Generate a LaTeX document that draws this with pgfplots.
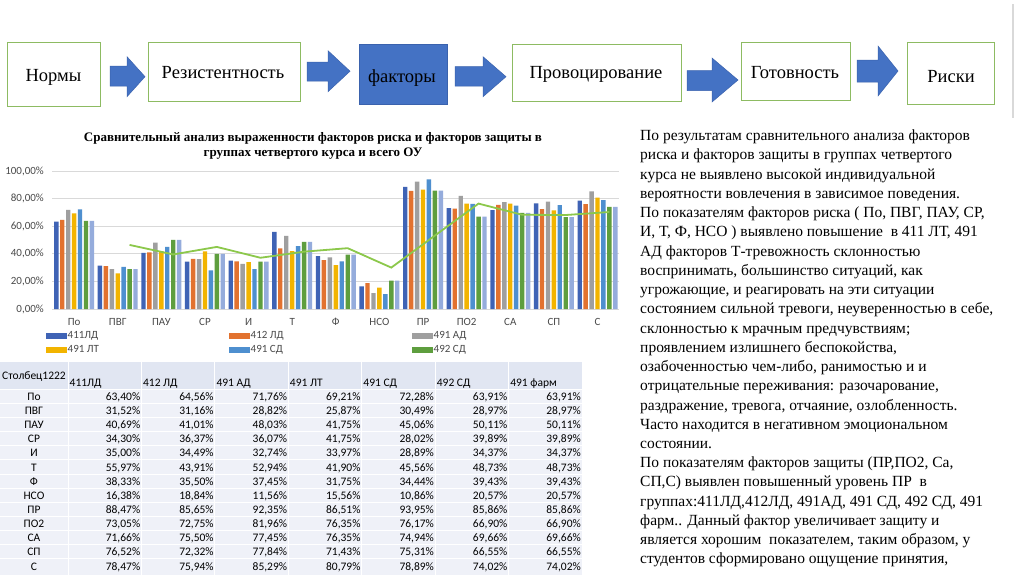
\documentclass[border=0pt]{standalone}
\usepackage{pgfplots}
\pgfplotsset{compat=1.18}
\usepackage{pgfplotstable}
\usepackage{fontspec}
\setmainfont{Liberation Serif}
\newfontfamily\tnr{Liberation Serif}
\newfontfamily\carlito{Carlito}

\definecolor{c1}{HTML}{3F63B5}
\definecolor{c2}{HTML}{E2722F}
\definecolor{c3}{HTML}{9F9F9F}
\definecolor{c4}{HTML}{F2B400}
\definecolor{c5}{HTML}{4E8FCF}
\definecolor{c6}{HTML}{5E9E3E}
\definecolor{c7}{HTML}{95ACDC}
\definecolor{linec}{HTML}{8CC84B}
\definecolor{gridc}{HTML}{D9D9D9}
\definecolor{tickc}{HTML}{4A4A4A}
\definecolor{boxg}{HTML}{8DBB62}
\definecolor{arrowc}{HTML}{4472C4}
\definecolor{arrowd}{HTML}{3A62AD}
\definecolor{hdrc}{HTML}{E1E6F2}
\definecolor{rowc}{HTML}{EFF1F8}

\pgfplotstableread{
x a b c d e f g
0 63.40 64.56 71.76 69.21 72.28 63.91 63.91
1 31.52 31.16 28.82 25.87 30.49 28.97 28.97
2 40.69 41.01 48.03 41.75 45.06 50.11 50.11
3 34.30 36.37 36.07 41.75 28.02 39.89 39.89
4 35.00 34.49 32.74 33.97 28.89 34.37 34.37
5 55.97 43.91 52.94 41.90 45.56 48.73 48.73
6 38.33 35.50 37.45 31.75 34.44 39.43 39.43
7 16.38 18.84 11.56 15.56 10.86 20.57 20.57
8 88.47 85.65 92.35 86.51 93.95 85.86 85.86
9 73.05 72.75 81.96 76.35 76.17 66.90 66.90
10 71.66 75.50 77.45 76.35 74.94 69.66 69.66
11 76.52 72.32 77.84 71.43 75.31 66.55 66.55
12 78.47 75.94 85.29 80.79 78.89 74.02 74.02
}\data

\begin{document}
\begin{tikzpicture}
\useasboundingbox (0pt,0pt) rectangle (1024pt,-574pt);
\fill[white] (0pt,0pt) rectangle (1024pt,-574pt);
\clip (0pt,0pt) rectangle (1024pt,-574pt);

\begin{scope}[x=1pt,y=-1pt]
% vertical separator top right
\draw[gridc, line width=1.6pt] (1012.7,4) -- (1012.7,118);
% flow boxes
\draw[boxg, line width=0.9pt, fill=white] (7,42.7) rectangle (100,106.7);
\draw[boxg, line width=0.9pt, fill=white] (148,42.7) rectangle (300,101.7);
\draw[draw=arrowd, line width=0.8pt, fill=arrowc] (359,44.3) rectangle (447,104);
\draw[boxg, line width=0.9pt, fill=white] (512.6,44) rectangle (681,101);
\draw[boxg, line width=0.9pt, fill=white] (741,42.7) rectangle (850,100);
\draw[boxg, line width=0.9pt, fill=white] (907.7,42) rectangle (994,104);
\begin{scope}[font=\tnr\fontsize{18.5}{20}\selectfont]
\node[anchor=base, inner sep=0] at (53.5,81) {Нормы};
\node[anchor=base, inner sep=0] at (223,78.5) {Резистентность};
\node[anchor=base, inner sep=0] at (402,82.5) {факторы};
\node[anchor=base, inner sep=0] at (596,78.8) {Провоцирование};
\node[anchor=base, inner sep=0] at (795,78.8) {Готовность};
\node[anchor=base, inner sep=0] at (951,82.5) {Риски};
\end{scope}
% arrows
\filldraw[fill=arrowc, draw=arrowd, line width=0.5pt] (110,66) -- (127,66) -- (127,56.7) -- (145,76.7) -- (127,96.7) -- (127,86) -- (110,86) -- cycle;
\filldraw[fill=arrowc, draw=arrowd, line width=0.5pt] (307,62) -- (328,62) -- (328,50.7) -- (350,71.2) -- (328,91.7) -- (328,81) -- (307,81) -- cycle;
\filldraw[fill=arrowc, draw=arrowd, line width=0.5pt] (455,66.5) -- (483,66.5) -- (483,56.7) -- (506,76.7) -- (483,96.7) -- (483,86) -- (455,86) -- cycle;
\filldraw[fill=arrowc, draw=arrowd, line width=0.5pt] (687,70.5) -- (712,70.5) -- (712,58) -- (738,80) -- (712,102) -- (712,90.5) -- (687,90.5) -- cycle;
\filldraw[fill=arrowc, draw=arrowd, line width=0.5pt] (857,60) -- (878,60) -- (878,46) -- (898,71) -- (878,96) -- (878,82) -- (857,82) -- cycle;
% chart title
\node[font=\tnr\bfseries\fontsize{13}{15}\selectfont, align=center, inner sep=0] at (313,146)
  {Сравнительный анализ выраженности факторов риска и факторов защиты в\\группах четвертого курса и всего ОУ};
% right text
\begin{scope}[font=\tnr\fontsize{15.5}{18}\selectfont]
\node[anchor=base west, inner sep=0] at (640,140.6) {По результатам сравнительного анализа факторов};
\node[anchor=base west, inner sep=0] at (640,159.8) {риска и факторов защиты в группах четвертого};
\node[anchor=base west, inner sep=0] at (640,179.1) {курса не выявлено высокой индивидуальной};
\node[anchor=base west, inner sep=0] at (640,198.3) {вероятности вовлечения в зависимое поведения.};
\node[anchor=base west, inner sep=0] at (640,217.6) {По показателям факторов риска ( По, ПВГ, ПАУ, СР,};
\node[anchor=base west, inner sep=0] at (640,236.8) {И, Т, Ф, НСО ) выявлено повышение\ \ в 411 ЛТ, 491};
\node[anchor=base west, inner sep=0] at (640,256.0) {АД факторов Т-тревожность склонностью};
\node[anchor=base west, inner sep=0] at (640,275.3) {воспринимать, большинство ситуаций, как};
\node[anchor=base west, inner sep=0] at (640,294.5) {угрожающие, и реагировать на эти ситуации};
\node[anchor=base west, inner sep=0] at (640,313.8) {состоянием сильной тревоги, неуверенностью в себе,};
\node[anchor=base west, inner sep=0] at (640,333.0) {склонностью к мрачным предчувствиям;};
\node[anchor=base west, inner sep=0] at (640,352.2) {проявлением излишнего беспокойства,};
\node[anchor=base west, inner sep=0] at (640,371.5) {озабоченностью чем-либо, ранимостью и и};
\node[anchor=base west, inner sep=0] at (640,390.7) {отрицательные переживания: разочарование,};
\node[anchor=base west, inner sep=0] at (640,410.0) {раздражение, тревога, отчаяние, озлобленность.};
\node[anchor=base west, inner sep=0] at (640,429.2) {Часто находится в негативном эмоциональном};
\node[anchor=base west, inner sep=0] at (640,448.4) {состоянии.};
\node[anchor=base west, inner sep=0] at (640,467.7) {По показателям факторов защиты (ПР,ПО2, Са,};
\node[anchor=base west, inner sep=0] at (640,486.9) {СП,С) выявлен повышенный уровень ПР\ \ в};
\node[anchor=base west, inner sep=0] at (640,506.2) {группах:411ЛД,412ЛД, 491АД, 491 СД, 492 СД, 491};
\node[anchor=base west, inner sep=0] at (640,525.4) {фарм.. Данный фактор увеличивает защиту и};
\node[anchor=base west, inner sep=0] at (640,544.6) {является хорошим\ \ показателем, таким образом, у};
\node[anchor=base west, inner sep=0] at (640,563.9) {студентов сформировано ощущение принятия,};
\end{scope}
\end{scope}

\begin{axis}[
  at={(52.3pt,-309pt)}, anchor=south west, scale only axis,
  width=567pt, height=138pt,
  xmin=-0.5, xmax=12.5, ymin=0, ymax=100,
  ybar, bar width=4.4pt,
  axis line style={draw=none},
  ymajorgrids, grid style={draw=gridc, line width=0.8pt},
  major tick length=0pt,
  xtick={0,1,2,3,4,5,6,7,8,9,10,11,12},
  xticklabels={По,ПВГ,ПАУ,СР,И,Т,Ф,НСО,ПР,ПО2,СА,СП,С},
  ytick={0,20,40,60,80,100},
  yticklabels={{0,00\%},{20,00\%},{40,00\%},{60,00\%},{80,00\%},{100,00\%}},
  tick label style={font=\carlito\fontsize{11}{13}\selectfont, text=tickc},
  xticklabel style={yshift=-5.5pt},
  yticklabel style={xshift=-5pt},
  clip=false,
  legend columns=3,
  legend cell align=left,
  legend style={draw=none, fill=none, at={(-0.012,-0.155)}, anchor=north west,
     font=\carlito\fontsize{11}{13}\selectfont, text=tickc,
     inner sep=0pt, column sep=0pt, row sep=3.5pt, nodes={inner sep=1pt}},
  every axis plot post/.append style={legend image code/.code={\fill[##1] (0pt,-3pt) rectangle (21pt,3pt);}},
]
\addplot[fill=c1, draw=none, bar shift=-17.8pt] table[x=x,y=a]{\data};
\addlegendentry{\makebox[160pt][l]{411ЛД}}
\addplot[fill=c2, draw=none, bar shift=-11.9pt] table[x=x,y=b]{\data};
\addlegendentry{\makebox[160pt][l]{412 ЛД}}
\addplot[fill=c3, draw=none, bar shift=-5.9pt] table[x=x,y=c]{\data};
\addlegendentry{\makebox[160pt][l]{491 АД}}
\addplot[fill=c4, draw=none, bar shift=0pt] table[x=x,y=d]{\data};
\addlegendentry{\makebox[160pt][l]{491 ЛТ}}
\addplot[fill=c5, draw=none, bar shift=5.9pt] table[x=x,y=e]{\data};
\addlegendentry{\makebox[160pt][l]{491 СД}}
\addplot[fill=c6, draw=none, bar shift=11.9pt] table[x=x,y=f]{\data};
\addlegendentry{\makebox[160pt][l]{492 СД}}
\addplot[fill=c7, draw=none, bar shift=17.8pt, forget plot] table[x=x,y=g]{\data};
\addplot[sharp plot, draw=linec, line width=1.8pt, mark=none, forget plot] coordinates {
 (1.272,46.44) (2.272,39.54) (3.272,45.00) (4.272,37.13) (5.272,41.55) (6.272,44.08)
 (7.272,30.00) (8.272,53.22) (9.272,76.38) (10.272,68.28) (11.272,68.11) (12.272,70.29)};
\end{axis}

\begin{scope}[x=1pt,y=-1pt, font=\carlito\fontsize{11.5}{13}\selectfont]
\fill[hdrc] (0,362) rectangle (582,389);
\fill[rowc] (0,389) rectangle (582,580);
\foreach \k in {0,...,6} {
  \draw[white, line width=1pt] ({68+73.43*\k},362) -- ({68+73.43*\k},580);
}
\foreach \k in {0,...,12} {
  \draw[white, line width=0.8pt] (0,{389+14.15*\k}) -- (582,{389+14.15*\k});
}
\node[anchor=base, inner sep=0] at (34,379.5) {Столбец1222};
\foreach \h [count=\kk from 0] in {411ЛД,412 ЛД,491 АД,491 ЛТ,491 СД,492 СД,491 фарм} {
  \node[anchor=base west, inner sep=0] at ({68+73.43*\kk+1.5},386.5) {\h};
}
\foreach \lab/\va/\vb/\vc/\vd/\ve/\vf/\vg [count=\r from 0] in {
 По/63.40/64.56/71.76/69.21/72.28/63.91/63.91,
 ПВГ/31.52/31.16/28.82/25.87/30.49/28.97/28.97,
 ПАУ/40.69/41.01/48.03/41.75/45.06/50.11/50.11,
 СР/34.30/36.37/36.07/41.75/28.02/39.89/39.89,
 И/35.00/34.49/32.74/33.97/28.89/34.37/34.37,
 Т/55.97/43.91/52.94/41.90/45.56/48.73/48.73,
 Ф/38.33/35.50/37.45/31.75/34.44/39.43/39.43,
 НСО/16.38/18.84/11.56/15.56/10.86/20.57/20.57,
 ПР/88.47/85.65/92.35/86.51/93.95/85.86/85.86,
 ПО2/73.05/72.75/81.96/76.35/76.17/66.90/66.90,
 СА/71.66/75.50/77.45/76.35/74.94/69.66/69.66,
 СП/76.52/72.32/77.84/71.43/75.31/66.55/66.55,
 С/78.47/75.94/85.29/80.79/78.89/74.02/74.02} {
  \pgfmathsetmacro\yy{396.3+14.15*\r+4}
  \node[anchor=base, inner sep=0] at (34,\yy) {\lab};
  \foreach \v [count=\cc from 1] in {\va,\vb,\vc,\vd,\ve,\vf,\vg} {
    \node[anchor=base east, inner sep=0] at ({68+73.43*\cc-1},\yy)
      {\pgfmathprintnumber[fixed,fixed zerofill,precision=2,use comma,assume math mode=true]{\v}\%};
  }
}
\end{scope}
\end{tikzpicture}
\end{document}
